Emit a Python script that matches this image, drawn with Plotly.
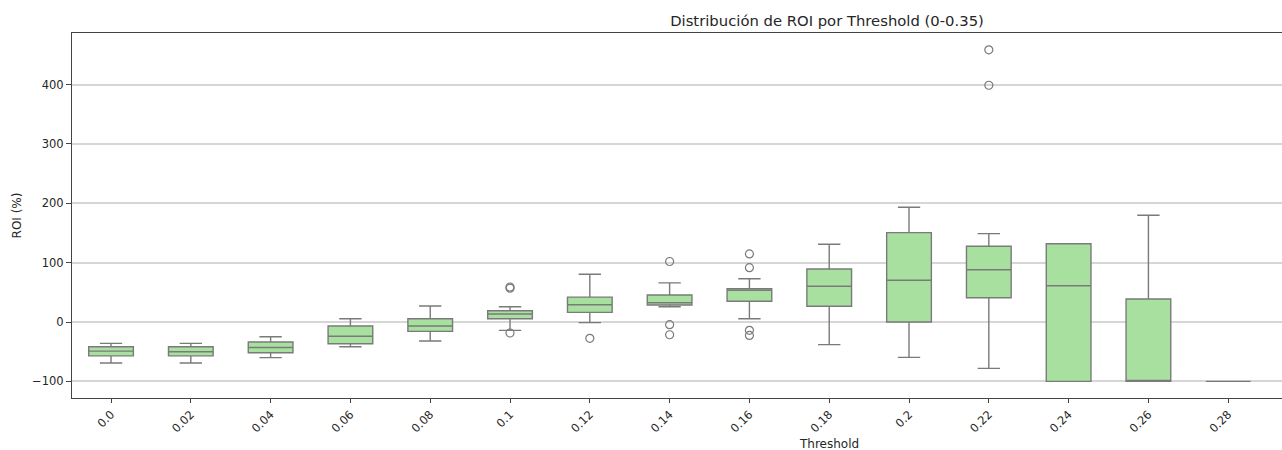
import plotly.graph_objects as go

# Threshold categories and per-threshold ROI (%) box statistics
thresholds = ["0.0", "0.02", "0.04", "0.06", "0.08", "0.1", "0.12", "0.14",
              "0.16", "0.18", "0.2", "0.22", "0.24", "0.26", "0.28"]
q1 = [-57, -57, -51.7, -36.6, -15.7, 5.6, 16.3, 28.7, 35, 26.5, 0, 41, -100, -100, -100]
median = [-49, -50, -43, -24, -6.7, 13.5, 29, 32.6, 53.4, 60.2, 70.3, 88.2, 61.2, -100, -100]
q3 = [-41.6, -41.6, -33.7, -6.7, 5.6, 19, 42, 45.5, 56, 89.4, 150.6, 127.6, 132, 38.8, -100]
lower_whisker = [-69, -69, -60, -41.6, -32, -14, -1, 25.8, 5.6, -38, -59.6, -78, -100, -100, -100]
upper_whisker = [-36, -36, -24.7, 5.6, 27, 25.8, 80.4, 66, 73, 131, 193.4, 149, 132, 180, -100]

# Outlying observations (threshold, ROI %)
outlier_threshold = ["0.1", "0.1", "0.1", "0.12", "0.14", "0.14", "0.14",
                     "0.16", "0.16", "0.16", "0.16", "0.22", "0.22"]
outlier_roi = [57, 59, -18.5, -27.5, 102, -4.5, -21.4,
               114.7, 91.6, -14, -22.5, 458.7, 399]

FONT = "DejaVu Sans"
TEXT = "#262626"
LINE = "#7a7a7a"
FILL = "#a8e0a0"
W, H = 1282, 450
L, R, T, B = 72, 0, 33, 52

fig = go.Figure()
fig.add_trace(go.Box(
    x=thresholds, q1=q1, median=median, q3=q3,
    lowerfence=lower_whisker, upperfence=upper_whisker,
    fillcolor=FILL, line=dict(color=LINE, width=1.4),
    whiskerwidth=0.5, boxpoints=False, showlegend=False,
))
fig.add_trace(go.Scatter(
    x=outlier_threshold, y=outlier_roi, mode="markers",
    marker=dict(symbol="circle-open", size=8, color=LINE, line=dict(width=1.2)),
    showlegend=False,
))

plot_w = W - L - R
title_cx = 827

fig.update_layout(
    width=W, height=H,
    margin=dict(l=L, r=R, t=T, b=B, pad=0),
    paper_bgcolor="white", plot_bgcolor="white",
    font=dict(family=FONT, size=11, color=TEXT),
    boxgap=0.2,
    title=dict(text="Distribución de ROI por Threshold (0-0.35)",
               x=title_cx / W, xref="container", xanchor="center",
               y=1 - 20.5 / H, yref="container", yanchor="middle",
               font=dict(family=FONT, size=14.8, color=TEXT)),
    annotations=[dict(text="Threshold", xref="paper", yref="paper",
                      x=(title_cx + 2 - L) / plot_w, y=-(443.5 - 398) / (H - T - B),
                      xanchor="center", yanchor="middle", showarrow=False,
                      font=dict(family=FONT, size=12, color=TEXT))],
)

fig.update_xaxes(
    type="category", categoryorder="array", categoryarray=thresholds,
    range=[-0.489, 14.674],
    showgrid=False, zeroline=False,
    showline=True, linecolor="#444444", linewidth=1.2, mirror=True,
    ticks="outside", ticklen=4, tickcolor="#444444", tickwidth=1,
    tickangle=-45, tickfont=dict(family=FONT, size=11.5, color=TEXT),
)
fig.update_yaxes(
    range=[-128, 487], tickmode="array", tickvals=[-100, 0, 100, 200, 300, 400],
    ticktext=["−100", "0", "100", "200", "300", "400"],
    showgrid=True, gridcolor="#d6d6d6", gridwidth=1.5, zeroline=False,
    showline=True, linecolor="#444444", linewidth=1.2,
    ticks="outside", ticklen=5, tickcolor="#444444", tickwidth=1,
    tickfont=dict(family=FONT, size=11.5, color=TEXT),
    title=dict(text="ROI (%)", standoff=7, font=dict(family=FONT, size=12, color=TEXT)),
)

fig.write_html("out.html")
